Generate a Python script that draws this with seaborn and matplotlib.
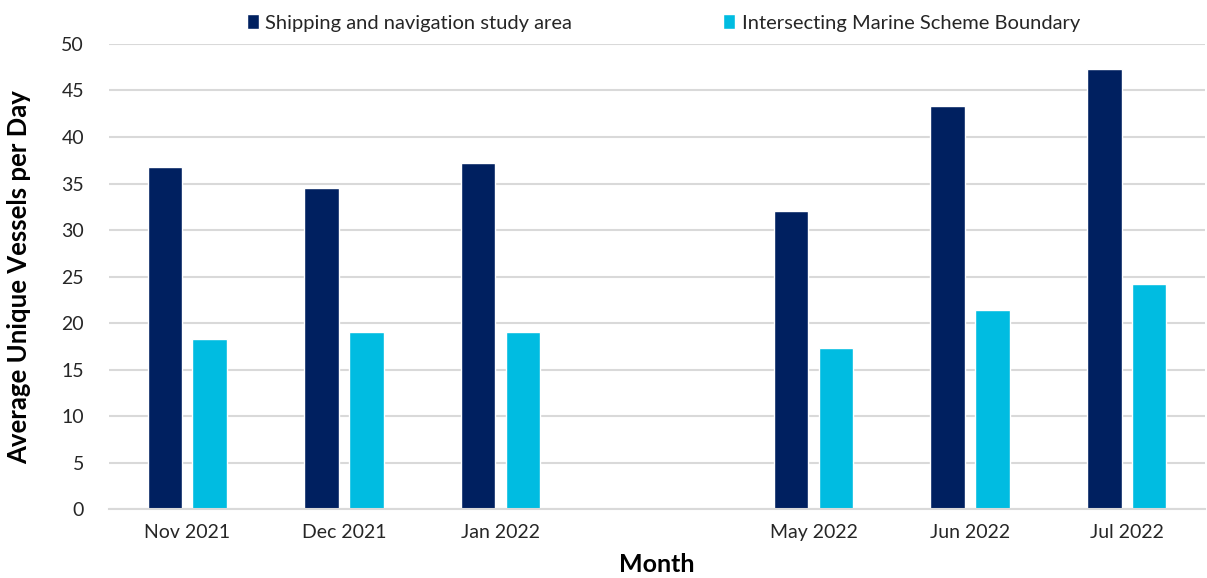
import matplotlib
matplotlib.use("Agg")
import matplotlib.pyplot as plt
import seaborn as sns
import pandas as pd
import numpy as np

months = ["Nov 2021", "Dec 2021", "Jan 2022", " ", "May 2022", "Jun 2022", "Jul 2022"]
study_area = [36.8, 34.5, 37.2, np.nan, 32.0, 43.3, 47.3]
marine_scheme = [18.3, 19.0, 19.0, np.nan, 17.3, 21.4, 24.2]
series_names = ["Shipping and navigation study area", "Intersecting Marine Scheme Boundary"]
colors = ["#002060", "#00BCE1"]

df = pd.DataFrame({
    "Month": months * 2,
    "Value": study_area + marine_scheme,
    "Series": [series_names[0]] * len(months) + [series_names[1]] * len(months),
})

sns.set_style("white")
plt.rcParams["font.family"] = ["Lato", "DejaVu Sans"]

fig = plt.figure(figsize=(12.07, 5.78), dpi=100)
ax = fig.add_axes([0.0903, 0.119, 0.908, 0.805])

sns.barplot(data=df, x="Month", y="Value", hue="Series", order=months,
            hue_order=series_names, palette=colors, width=0.573, gap=0.23,
            saturation=1, ax=ax, legend=True)

ax.set_ylim(0, 50)
ax.set_yticks(range(0, 51, 5))
ax.set_xlim(-0.5, len(months) - 0.5)
ax.yaxis.grid(True, color="#d9d9d9", linewidth=1.5)
ax.set_axisbelow(True)
for s in ["top", "right", "left"]:
    ax.spines[s].set_visible(False)
ax.spines["bottom"].set_color("#d9d9d9")
ax.spines["bottom"].set_linewidth(1.5)
ax.tick_params(axis="both", length=0, labelsize=14, colors="#262626")
ax.tick_params(axis="x", pad=11)
ax.tick_params(axis="y", pad=18)

ax.set_ylabel("Average Unique Vessels per Day", fontsize=18.5, fontweight="bold", color="black", labelpad=22)
ax.set_xlabel("Month", fontsize=18, fontweight="bold", color="black", labelpad=8)

leg = ax.legend(loc="center", bbox_to_anchor=(0.506, 1.045), ncol=2, frameon=False,
                fontsize=14.5, handlelength=0.6, handleheight=0.75, handletextpad=0.3,
                columnspacing=7.5, borderaxespad=0)
for t in leg.get_texts():
    t.set_color("#262626")

fig.savefig("out.png", dpi=100)
